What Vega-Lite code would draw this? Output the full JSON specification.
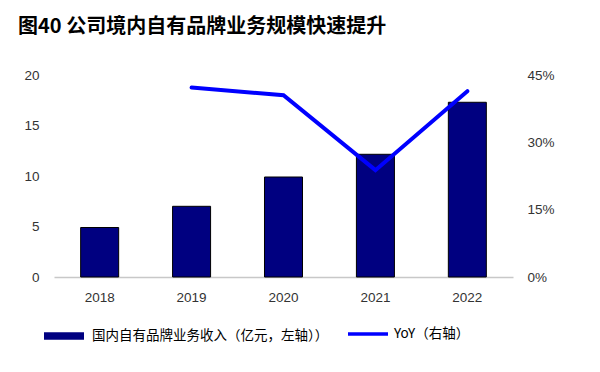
{
  "$schema": "https://vega.github.io/schema/vega-lite/v6.json",
  "width": 459,
  "height": 202,
  "autosize": {"type": "none"},
  "padding": {"left": 54, "top": 75, "right": 87, "bottom": 95},
  "background": "white",
  "config": {
    "view": {"stroke": null},
    "font": "Liberation Sans"
  },
  "title": {
    "text": "图40 公司境内自有品牌业务规模快速提升",
    "font": "Noto Sans CJK SC",
    "fontSize": 20,
    "fontWeight": "bold",
    "color": "#000000",
    "anchor": "start",
    "frame": "group",
    "dx": -36,
    "offset": 31
  },
  "data": {
    "values": [
      {"year": "2018", "revenue": 4.9, "yoy": null},
      {"year": "2019", "revenue": 7.0, "yoy": 0.422},
      {"year": "2020", "revenue": 9.9, "yoy": 0.405},
      {"year": "2021", "revenue": 12.15, "yoy": 0.238},
      {"year": "2022", "revenue": 17.3, "yoy": 0.414}
    ]
  },
  "encoding": {
    "x": {
      "field": "year",
      "type": "ordinal",
      "scale": {"paddingInner": 0.5865, "paddingOuter": 0.29},
      "axis": {
        "title": null,
        "labelAngle": 0,
        "labelFont": "Liberation Sans",
        "labelFontSize": 13.5,
        "labelColor": "#333333",
        "labelPadding": 13,
        "ticks": false,
        "domainColor": "#c8c8c8",
        "domainWidth": 1.5
      }
    }
  },
  "layer": [
    {
      "mark": {"type": "bar", "stroke": "#000000", "strokeWidth": 1},
      "encoding": {
        "y": {
          "field": "revenue",
          "type": "quantitative",
          "scale": {"domain": [0, 20]},
          "axis": {
            "title": null,
            "values": [0, 5, 10, 15, 20],
            "grid": false,
            "domain": false,
            "ticks": false,
            "labelFont": "Liberation Sans",
            "labelFontSize": 13.5,
            "labelColor": "#333333",
            "labelPadding": 15
          }
        },
        "fill": {
          "datum": "国内自有品牌业务收入（亿元，左轴））",
          "type": "nominal",
          "scale": {"range": ["#000080"]},
          "legend": {
            "title": null,
            "orient": "none",
            "direction": "horizontal",
            "legendX": -14,
            "legendY": 237,
            "labelFont": "Noto Sans CJK SC",
            "labelFontSize": 13.5,
            "labelColor": "#000000",
            "labelLimit": 400,
            "symbolType": "stroke",
            "symbolSize": 1600,
            "symbolStrokeWidth": 7.5,
            "symbolStrokeColor": "#000080",
            "symbolOpacity": 1,
            "labelOffset": 4
          }
        }
      }
    },
    {
      "mark": {"type": "line", "strokeWidth": 4, "strokeCap": "round"},
      "encoding": {
        "y": {
          "field": "yoy",
          "type": "quantitative",
          "scale": {"domain": [0, 0.45]},
          "axis": {
            "title": null,
            "orient": "right",
            "values": [0, 0.15, 0.3, 0.45],
            "format": ".0%",
            "grid": false,
            "domain": false,
            "ticks": false,
            "labelFont": "Liberation Sans",
            "labelFontSize": 13.5,
            "labelColor": "#333333",
            "labelPadding": 14
          }
        },
        "stroke": {
          "datum": "YoY（右轴）",
          "type": "nominal",
          "scale": {"range": ["#0000ff"]},
          "legend": {
            "title": null,
            "orient": "none",
            "direction": "horizontal",
            "legendX": 292,
            "legendY": 237,
            "labelFont": "Noto Sans CJK SC",
            "labelFontSize": 13.5,
            "labelColor": "#000000",
            "labelLimit": 400,
            "symbolType": "stroke",
            "symbolSize": 1600,
            "symbolStrokeWidth": 3.5,
            "symbolOpacity": 1,
            "labelOffset": 4
          }
        }
      }
    }
  ],
  "resolve": {"scale": {"y": "independent"}}
}
